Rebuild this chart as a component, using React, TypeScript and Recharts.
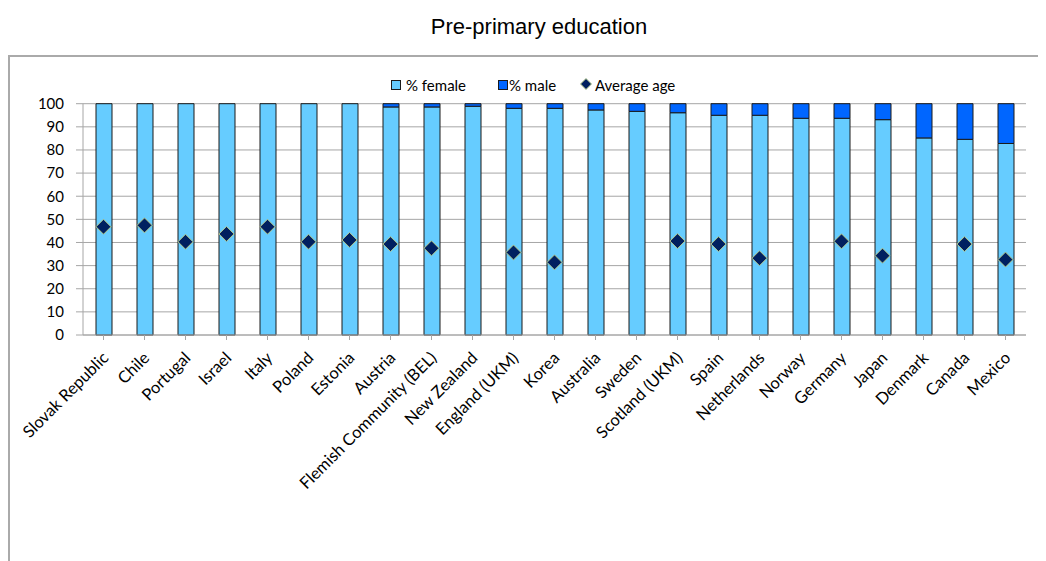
import React from "react";
import {
  ComposedChart,
  Bar,
  Line,
  CartesianGrid,
  XAxis,
  YAxis,
} from "recharts";

const countries = [
  "Slovak Republic",
  "Chile",
  "Portugal",
  "Israel",
  "Italy",
  "Poland",
  "Estonia",
  "Austria",
  "Flemish Community (BEL)",
  "New Zealand",
  "England (UKM)",
  "Korea",
  "Australia",
  "Sweden",
  "Scotland (UKM)",
  "Spain",
  "Netherlands",
  "Norway",
  "Germany",
  "Japan",
  "Denmark",
  "Canada",
  "Mexico",
];

const femalePct = [
  100, 100, 100, 100, 100, 100, 100, 98.6, 98.6, 98.9, 98.0, 98.0, 97.3, 96.7,
  96.1, 95.0, 95.0, 93.7, 93.7, 93.1, 85.2, 84.6, 82.8,
];

const malePct = [
  0, 0, 0, 0, 0, 0, 0, 1.4, 1.4, 1.1, 2.0, 2.0, 2.7, 3.3, 3.9, 5.0, 5.0, 6.3,
  6.3, 6.9, 14.8, 15.4, 17.2,
];

const averageAge: (number | null)[] = [
  46.8, 47.4, 40.3, 43.7, 46.8, 40.3, 41.1, 39.3, 37.5, null, 35.7, 31.4, null,
  null, 40.6, 39.3, 33.2, null, 40.5, 34.3, null, 39.3, 32.6,
];

const yTicks = [0, 10, 20, 30, 40, 50, 60, 70, 80, 90, 100];

const rows = countries.map((name, i) => ({
  name,
  female: femalePct[i],
  male: malePct[i],
  age: averageAge[i],
}));

const FEMALE = "#66CCFF";
const MALE = "#0066FF";
const AGE = "#002060";
const GRID = "#A6A6A6";
const FONT = "Lato, 'Open Sans', sans-serif";

const Diamond = (props: any) => {
  const { cx, cy, value } = props;
  if (value == null || cx == null || cy == null) return null;
  const r = 7.5;
  return (
    <path
      d={`M${cx},${cy - r} L${cx + r},${cy} L${cx},${cy + r} L${cx - r},${cy} Z`}
      fill={AGE}
      stroke="#B5C98A"
      strokeWidth={1}
    />
  );
};

const CountryTick = (props: any) => {
  const { x, y, payload } = props;
  return (
    <g transform={`translate(${x + 6},${y + 19})`}>
      <text
        x={0}
        y={0}
        transform="rotate(-45)"
        textAnchor="end"
        fontFamily={FONT}
        fontSize={16.5}
        fill="#000"
      >
        {payload.value}
      </text>
    </g>
  );
};

const legendText: React.CSSProperties = {
  position: "absolute",
  top: 68,
  fontFamily: FONT,
  fontSize: 15,
  lineHeight: "18px",
  color: "#000",
  whiteSpace: "nowrap",
};

const swatch = (left: number, color: string): React.CSSProperties => ({
  position: "absolute",
  left,
  top: 72,
  width: 8,
  height: 8,
  background: color,
  border: "1px solid #1a1a1a",
});

export default function App() {
  return (
    <div
      style={{
        position: "relative",
        width: 1038,
        height: 553,
        overflow: "hidden",
        background: "#fff",
      }}
    >
      <div
        style={{
          position: "absolute",
          left: 12,
          top: 0,
          width: 1038,
          textAlign: "center",
          fontFamily: "'Liberation Sans', Arial, sans-serif",
          fontSize: 22,
          lineHeight: "38px",
          color: "#000",
        }}
      >
        Pre-primary education
      </div>
      <div
        style={{
          position: "absolute",
          left: 0,
          top: 47,
          width: 1100,
          height: 600,
          borderTop: "2px solid #AAAAAA",
          borderLeft: "2px solid #AAAAAA",
        }}
      />

      {/* legend */}
      <div style={swatch(383, FEMALE)} />
      <div style={{ ...legendText, left: 398 }}>% female</div>
      <div style={swatch(490, MALE)} />
      <div style={{ ...legendText, left: 501 }}>% male</div>
      <svg
        style={{ position: "absolute", left: 572, top: 70 }}
        width={12}
        height={12}
      >
        <path d="M6,0.5 L11.5,6 L6,11.5 L0.5,6 Z" fill={AGE} stroke="#B5C98A" />
      </svg>
      <div style={{ ...legendText, left: 587 }}>Average age</div>

      <div style={{ position: "absolute", left: 0, top: 0 }}>
        <ComposedChart
          width={1038}
          height={553}
          data={rows}
          margin={{ top: 95.7, right: 20, left: 0, bottom: 0 }}
          barSize={16}
        >
          <CartesianGrid vertical={false} stroke={GRID} strokeWidth={1} />
          <XAxis
            dataKey="name"
            interval={0}
            height={226}
            tickSize={5}
            tickMargin={0}
            stroke={GRID}
            tick={<CountryTick />}
          />
          <YAxis
            domain={[0, 100]}
            ticks={yTicks}
            width={75}
            tickSize={7}
            tickMargin={12}
            stroke={GRID}
            interval={0}
            tick={{ fontFamily: FONT, fontSize: 15, fill: "#000" }}
          />
          <Bar
            dataKey="female"
            stackId="gender"
            fill={FEMALE}
            stroke="#1a1a1a"
            strokeWidth={1}
            isAnimationActive={false}
          />
          <Bar
            dataKey="male"
            stackId="gender"
            fill={MALE}
            stroke="#1a1a1a"
            strokeWidth={1}
            isAnimationActive={false}
          />
          <Line
            dataKey="age"
            stroke="none"
            dot={<Diamond />}
            activeDot={false}
            connectNulls={false}
            isAnimationActive={false}
          />
        </ComposedChart>
      </div>
    </div>
  );
}
